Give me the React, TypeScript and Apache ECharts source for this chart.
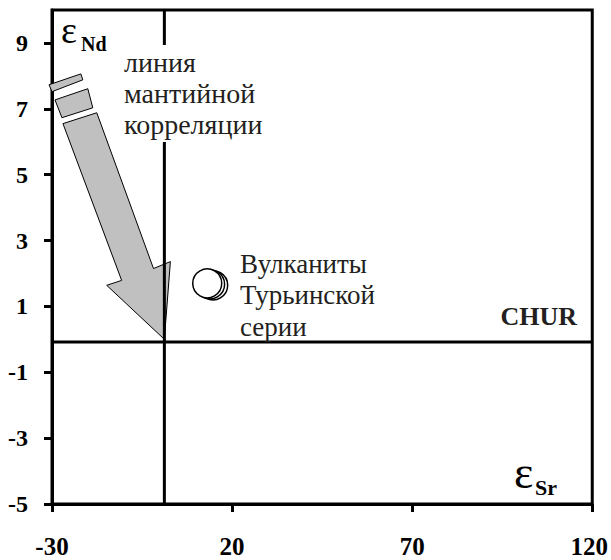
import React, { useEffect, useRef } from "react";
import * as echarts from "echarts";

// Axis ranges and tick labels
const xRange = [-30, 120];
const yRange = [-5, 10];
const xInterval = 50;
const yTicks = [-5, -3, -1, 1, 3, 5, 7, 9];

// Volcanic rocks of the Turyinsk series (εSr, εNd), back to front
const volcanicSr = [14.75, 13.9, 13.1];
const volcanicNd = [1.64, 1.67, 1.7];

// CHUR reference lines
const churSr = 1.2;
const churNd = -0.08;

// Mantle correlation arrow pieces, in (εSr, εNd) units
const arrowShaft = [
  [-26.96, 6.55],
  [-17.57, 6.88],
  [-1.82, 2.15],
  [2.87, 2.36],
  [1.2, 0.0],
  [-14.81, 1.64],
  [-10.66, 1.79],
];
const arrowDashLower = [
  [-29.17, 7.27],
  [-20.06, 7.61],
  [-18.67, 7.03],
  [-27.24, 6.73],
];
const arrowDashUpper = [
  [-30.83, 7.73],
  [-21.99, 8.06],
  [-21.44, 7.88],
  [-30.0, 7.52],
];

const FONT = "'Liberation Serif', 'Times New Roman', serif";

export default function App() {
  const ref = useRef<HTMLDivElement>(null);

  useEffect(() => {
    document.body.style.margin = "0";
    if (!ref.current) return;
    const chart = echarts.init(ref.current, null, { renderer: "svg" });
    const pieces = [arrowDashUpper, arrowDashLower, arrowShaft];

    chart.setOption({
      animation: false,
      backgroundColor: "#ffffff",
      grid: {
        left: 52,
        top: 10,
        width: 543,
        height: 494,
        containLabel: false,
        show: true,
        borderColor: "#000",
        borderWidth: 3,
        backgroundColor: "transparent",
      },
      xAxis: {
        type: "value",
        min: xRange[0],
        max: xRange[1],
        interval: xInterval,
        axisLine: { show: true, onZero: false, lineStyle: { color: "#000", width: 3 } },
        axisTick: { show: true, length: 8, lineStyle: { color: "#000", width: 3 } },
        axisLabel: {
          margin: 30,
          color: "#000",
          fontFamily: FONT,
          fontWeight: "bold",
          fontSize: 25,
          formatter: (v: number) => (v === xRange[1] ? `{m|${v}}` : `${v}`),
          rich: {
            m: {
              fontFamily: FONT,
              fontWeight: "bold",
              fontSize: 25,
              color: "#000",
              padding: [0, 6, 0, 0],
            },
          },
        },
        splitLine: { show: false },
      },
      yAxis: {
        type: "value",
        min: yRange[0],
        max: yRange[1],
        interval: 2,
        axisLine: { show: true, onZero: false, lineStyle: { color: "#000", width: 3 } },
        axisTick: {
          show: true,
          length: 8,
          customValues: yTicks,
          lineStyle: { color: "#000", width: 3 },
        },
        axisLabel: {
          margin: 24,
          color: "#000",
          fontFamily: FONT,
          fontWeight: "bold",
          fontSize: 24,
          customValues: yTicks,
        },
        splitLine: { show: false },
      },
      series: [
        {
          type: "custom",
          z: 1,
          silent: true,
          clip: false,
          data: pieces.map((_, i) => [i]),
          renderItem: (params: any, api: any) => {
            const pts = pieces[params.dataIndex].map((p) => api.coord(p));
            return {
              type: "polygon",
              shape: { points: pts },
              style: { fill: "#c0c0c0", stroke: "#000", lineWidth: 1 },
            };
          },
        },
        {
          type: "line",
          z: 3,
          silent: true,
          symbol: "none",
          lineStyle: { color: "#000", width: 3 },
          data: [
            [churSr, yRange[0]],
            [churSr, yRange[1]],
          ],
        },
        {
          type: "line",
          z: 3,
          silent: true,
          symbol: "none",
          lineStyle: { color: "#000", width: 3 },
          data: [
            [xRange[0], churNd],
            [xRange[1], churNd],
          ],
        },
        {
          type: "scatter",
          z: 5,
          symbol: "circle",
          symbolSize: 29,
          itemStyle: { color: "#fff", borderColor: "#000", borderWidth: 1.5, opacity: 1 },
          data: volcanicSr.map((x, i) => [x, volcanicNd[i]]),
        },
      ],
      graphic: [
        {
          type: "text",
          x: 122,
          y: 45,
          z: 100,
          style: {
            text: "линия\nмантийной\nкорреляции",
            fontFamily: FONT,
            fontSize: 28,
            fill: "#231f20",
            lineHeight: 31,
            backgroundColor: "#fff",
            padding: [2, 6, 2, 2],
            verticalAlign: "top",
            align: "left",
          },
        },
        {
          type: "text",
          x: 240,
          y: 248,
          z: 100,
          style: {
            text: "Вулканиты\nТурьинской\nсерии",
            fontFamily: FONT,
            fontSize: 27,
            fill: "#231f20",
            lineHeight: 31.5,
            verticalAlign: "top",
            align: "left",
          },
        },
        {
          type: "text",
          x: 577,
          y: 316,
          z: 100,
          style: {
            text: "CHUR",
            fontFamily: FONT,
            fontSize: 26,
            fontWeight: "bold",
            fill: "#231f20",
            verticalAlign: "middle",
            align: "right",
          },
        },
        {
          type: "text",
          x: 61,
          y: 30,
          z: 100,
          style: { text: "ε", fontFamily: FONT, fontSize: 38, fill: "#000", verticalAlign: "middle", align: "left" },
        },
        {
          type: "text",
          x: 81,
          y: 44,
          z: 100,
          style: { text: "Nd", fontFamily: FONT, fontSize: 20, fontWeight: "bold", fill: "#000", verticalAlign: "middle", align: "left" },
        },
        {
          type: "text",
          x: 514,
          y: 472,
          z: 100,
          style: { text: "ε", fontFamily: FONT, fontSize: 46, fill: "#000", verticalAlign: "middle", align: "left" },
        },
        {
          type: "text",
          x: 535,
          y: 487,
          z: 100,
          style: { text: "Sr", fontFamily: FONT, fontSize: 22, fontWeight: "bold", fill: "#000", verticalAlign: "middle", align: "left" },
        },
      ],
    });

    return () => chart.dispose();
  }, []);

  return (
    <div
      ref={ref}
      style={{ position: "fixed", left: 0, top: 0, width: 611, height: 560, background: "#fff" }}
    />
  );
}
